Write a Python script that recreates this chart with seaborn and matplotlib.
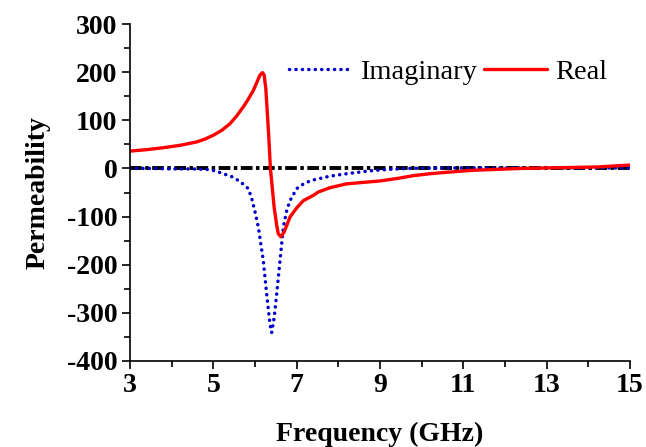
import numpy as np
import pandas as pd
import matplotlib
matplotlib.use("Agg")
import matplotlib.pyplot as plt
import seaborn as sns
from matplotlib.ticker import MultipleLocator

# Data
real_freq = [3.0, 3.4, 3.8, 4.2, 4.6, 4.8, 5.0, 5.2, 5.4, 5.56, 5.72, 5.84,
             5.96, 6.06, 6.12, 6.18, 6.22, 6.26, 6.3, 6.34, 6.37, 6.42, 6.46,
             6.52, 6.56, 6.62, 6.7, 6.84, 7.0, 7.16, 7.4, 7.52, 7.8, 8.2, 8.6,
             9.0, 9.4, 9.8, 10.2, 10.6, 11.2, 11.8, 12.4, 13.0, 13.6, 14.2,
             14.6, 15.0]
real_vals = [36, 39, 43, 48, 55, 61, 69, 79, 93, 109, 128, 144,
             162, 182, 194, 199, 194, 165, 110, 51, 0, -45, -81,
             -118, -136, -142, -132, -101, -82, -67, -56, -49, -40, -32, -29,
             -26, -21, -15, -11, -8, -4, -2, 0, 1, 2, 3,
             5, 7]

imag_freq = [3.0, 3.5, 4.0, 4.5, 4.84, 5.04, 5.24, 5.44, 5.64, 5.84, 5.92, 6.0,
             6.08, 6.2, 6.28, 6.36, 6.4, 6.46, 6.52, 6.6, 6.68, 6.76, 6.84,
             7.0, 7.2, 7.4, 7.8, 8.2, 8.76, 9.2, 9.7, 10.5, 11.5, 12.5, 13.5,
             14.5, 15.0]
imag_vals = [0, 0, -1, -1, -2, -5, -11, -17, -27, -42, -62, -90,
             -122, -192, -261, -324, -341, -310, -261, -192, -122, -88, -67,
             -42, -30, -24, -16, -11, -5, -2, 0, 1, 1, 1, 1,
             1, 1]

zero_freq = [3.0, 15.0]
zero_vals = [0, 0]

x_ticks = [3, 5, 7, 9, 11, 13, 15]
y_ticks = [-400, -300, -200, -100, 0, 100, 200, 300]

sns.set_theme(style="white")
plt.rcParams['font.family'] = ['Liberation Serif', 'DejaVu Serif']
plt.rcParams['axes.unicode_minus'] = False

fig = plt.figure(figsize=(6.46, 4.47), dpi=100)
ax = fig.add_axes([130/646, 86/447, 500/646, 337/447])

df_real = pd.DataFrame({"Frequency": real_freq, "Permeability": real_vals})
df_imag = pd.DataFrame({"Frequency": imag_freq, "Permeability": imag_vals})
df_zero = pd.DataFrame({"Frequency": zero_freq, "Permeability": zero_vals})

sns.lineplot(data=df_zero, x="Frequency", y="Permeability", ax=ax, color="black",
             lw=2.8, linestyle=(0, (3.0, 0.9, 0.9, 0.9)), legend=False)
sns.lineplot(data=df_imag, x="Frequency", y="Permeability", ax=ax, color="#0000CC",
             lw=2.5, linestyle=(0, (0.05, 1.8)), label="Imaginary",
             dash_capstyle="round")
sns.lineplot(data=df_real, x="Frequency", y="Permeability", ax=ax, color="#FF0000",
             lw=2.4, label="Real")

ax.set_xlim(3, 15)
ax.set_ylim(-400, 300)
ax.set_xticks(x_ticks)
ax.set_yticks(y_ticks)
ax.xaxis.set_minor_locator(MultipleLocator(1))
ax.yaxis.set_minor_locator(MultipleLocator(50))

for s in ["top", "right"]:
    ax.spines[s].set_visible(False)
for s in ["left", "bottom"]:
    ax.spines[s].set_color("black")
    ax.spines[s].set_linewidth(1.2)

ax.tick_params(axis="both", which="major", direction="out", length=6, width=1.2,
               color="black", labelsize=20, pad=3, bottom=True, left=True)
ax.tick_params(axis="both", which="minor", direction="out", length=4, width=1.2,
               color="black", bottom=True, left=True)
for lab in ax.get_xticklabels() + ax.get_yticklabels():
    lab.set_fontweight("bold")
    lab.set_color("black")

ax.set_xlabel("Frequency (GHz)", fontsize=20, fontweight="bold", color="black", labelpad=17)
ax.set_ylabel("Permeability", fontsize=20, fontweight="bold", color="black", labelpad=12)

leg = ax.legend(loc="center right", bbox_to_anchor=(0.955, 0.857), ncol=2,
                frameon=False, fontsize=20.5, handlelength=2.2, handletextpad=0.3,
                columnspacing=0.25, borderaxespad=0, borderpad=0)
for t in leg.get_texts():
    t.set_color("black")

fig.savefig("out.png", dpi=100)
